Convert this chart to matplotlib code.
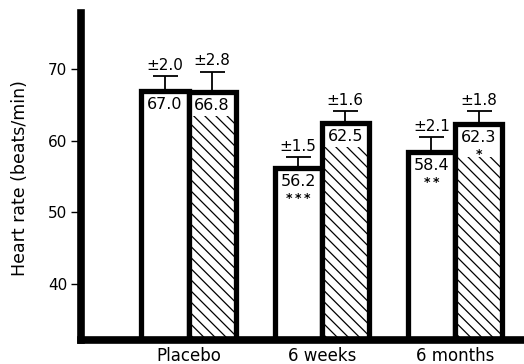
import numpy as np
import matplotlib
matplotlib.use("Agg")
import matplotlib.pyplot as plt

plt.rcParams['font.family'] = ['DejaVu Sans']
plt.rcParams['hatch.linewidth'] = 0.9

# data
groups = ['Placebo', '6 weeks', '6 months']
white_vals = [67.0, 56.2, 58.4]
white_err = [2.0, 1.5, 2.1]
white_stars = ['', '***', '**']
hatch_vals = [66.8, 62.5, 62.3]
hatch_err = [2.8, 1.6, 1.8]
hatch_stars = ['', '', '*']
yticks = [40, 50, 60, 70]

fig = plt.figure(figsize=(5.24, 3.64), dpi=100)
ax = fig.add_axes([0.1546, 0.066, 0.8454, 0.898])

x = np.arange(len(groups))
w = 0.353
edge_lw = 3.8

xw = x - w / 2
xh = x + w / 2

# white bars
ax.bar(xw, white_vals, w, color='white', edgecolor='black', linewidth=edge_lw, zorder=2)
# hatched bars
ax.bar(xh, hatch_vals, w, color='white', edgecolor='black', hatch='\\\\\\', linewidth=0, zorder=2)
# white area behind the labels on the hatched bars
box_h = [4.6 if s else 3.4 for s in hatch_stars]
ax.bar(xh, box_h, w, bottom=np.array(hatch_vals) - np.array(box_h), color='white', edgecolor='none', zorder=3)
ax.bar(xh, hatch_vals, w, fill=False, edgecolor='black', linewidth=edge_lw, zorder=4)

# error bars (upper only)
for xs, vals, errs in [(xw, white_vals, white_err), (xh, hatch_vals, hatch_err)]:
    ax.errorbar(xs, vals, yerr=[np.zeros(len(errs)), errs], fmt='none', ecolor='black',
                elinewidth=1.3, capsize=9, capthick=1.3, zorder=1)
    for xi, v, e in zip(xs, vals, errs):
        ax.annotate('\u00b1%.1f' % e, (xi, v + e), xytext=(0, 2.5), textcoords='offset points',
                    ha='center', va='bottom', fontsize=11)
        ax.annotate('%.1f' % v, (xi, v), xytext=(0, -4.5), textcoords='offset points',
                    ha='center', va='top', fontsize=11.5, zorder=5)

for xs, vals, stars in [(xw, white_vals, white_stars), (xh, hatch_vals, hatch_stars)]:
    for xi, v, s in zip(xs, vals, stars):
        if s:
            ax.annotate('\u2009'.join(s), (xi, v), xytext=(0, -22), textcoords='offset points',
                        ha='center', va='center', fontsize=9, fontweight='bold', zorder=5)

ax.set_xlim(-0.807, 2.518)
ax.set_ylim(32.2, 77.8)
ax.set_yticks(yticks)
ax.set_xticks(x)
ax.set_xticklabels(groups, fontsize=12)
ax.tick_params(axis='x', length=0, pad=5)
ax.tick_params(axis='y', direction='out', length=7, width=1, labelsize=11, pad=3)
ax.set_ylabel('Heart rate (beats/min)', fontsize=12.5)
ax.yaxis.set_label_coords(-0.117, 0.494)

for s in ['top', 'right']:
    ax.spines[s].set_visible(False)
for s in ['left', 'bottom']:
    ax.spines[s].set_linewidth(5.5)
    ax.spines[s].set_capstyle('projecting')

fig.savefig('out.png', dpi=100)
